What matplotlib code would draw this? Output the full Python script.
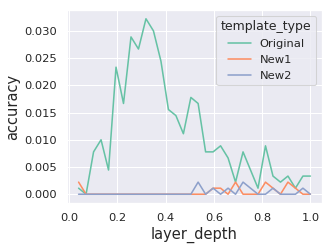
import matplotlib
matplotlib.use("Agg")
import matplotlib.pyplot as plt
import seaborn as sns
import pandas as pd

# layer depth (fraction of layers) and accuracy for each template type
layer_depth = [0.040, 0.071, 0.102, 0.133, 0.164, 0.195, 0.226, 0.257,
               0.288, 0.319, 0.350, 0.381, 0.412, 0.443, 0.474, 0.505,
               0.535, 0.566, 0.597, 0.628, 0.659, 0.690, 0.721, 0.752,
               0.783, 0.814, 0.845, 0.876, 0.907, 0.938, 0.969, 1.000]
original = [1, 0, 7, 9, 4, 21, 15, 26, 24, 29, 27, 22, 14, 13, 10, 16,
            15, 7, 7, 8, 6, 2, 7, 4, 1, 8, 3, 2, 3, 1, 3, 3]
new1 = [2, 0, 0, 0, 0, 0, 0, 0, 0, 0, 0, 0, 0, 0, 0, 0,
        0, 0, 1, 1, 0, 2, 0, 0, 0, 2, 1, 0, 2, 1, 0, 0]
new2 = [0, 0, 0, 0, 0, 0, 0, 0, 0, 0, 0, 0, 0, 0, 0, 0,
        2, 0, 1, 0, 1, 0, 2, 1, 0, 0, 1, 0, 0, 0, 1, 0]
n_total = 900

rows = []
for name, vals in [("Original", original), ("New1", new1), ("New2", new2)]:
    for d, v in zip(layer_depth, vals):
        rows.append({"layer_depth": d, "accuracy": v / n_total, "template_type": name})
df = pd.DataFrame(rows)

sns.set_theme(style="darkgrid")
fig = plt.figure(figsize=(332 / 75, 249 / 75), dpi=75)
ax = fig.add_axes([67 / 332, 46 / 249, 255 / 332, 193 / 249])
sns.lineplot(data=df, x="layer_depth", y="accuracy", hue="template_type",
             palette="Set2", ax=ax)
ax.set_xticks([0.0, 0.2, 0.4, 0.6, 0.8, 1.0])
ax.set_xlabel("layer_depth", fontsize=14)
ax.set_ylabel("accuracy", fontsize=14)
fig.savefig("out.png", dpi=75)
